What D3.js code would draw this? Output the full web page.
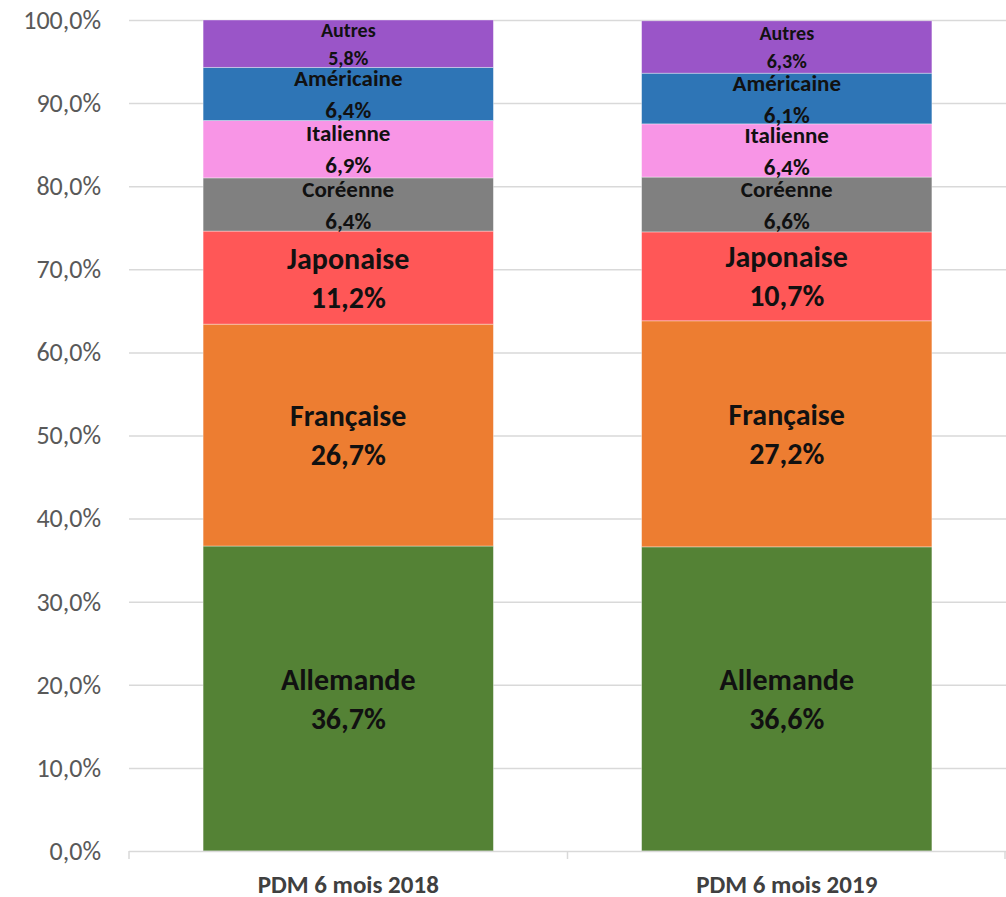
<!DOCTYPE html>
<html>
<head>
<meta charset="utf-8">
<script src="https://cdn.jsdelivr.net/npm/d3@7"></script>
<style>
  body { margin: 0; background: #fff; }
  svg { display: block; font-family: Carlito, Lato, "Liberation Sans", sans-serif; }
</style>
</head>
<body>
<div id="chart"></div>
<script>
// categories (bars) and stacked series, bottom to top
var periods = ['PDM 6 mois 2018', 'PDM 6 mois 2019'];
var brands = ['Allemande', 'Française', 'Japonaise', 'Coréenne', 'Italienne', 'Américaine', 'Autres'];
var share2018 = [36.7, 26.7, 11.2, 6.4, 6.9, 6.4, 5.8];
var share2019 = [36.6, 27.2, 10.7, 6.6, 6.4, 6.1, 6.3];
var yTicks = [0, 10, 20, 30, 40, 50, 60, 70, 80, 90, 100];

// look of each segment (colour, label size)
var colors = ['#548235', '#ED7D31', '#FF5757', '#808080', '#F895E6', '#2E75B6', '#9A55C8'];
var labelSize = [30, 30, 30, 23, 23, 23, 20];
var lineGap = [39, 39, 39, 32, 32, 32, 28];

var width = 1006, height = 897;
var margin = {top: 20, right: 0, bottom: 46, left: 129};

var svg = d3.select('#chart').append('svg')
	.attr('width', width)
	.attr('height', height);

var x = d3.scaleBand()
	.domain(periods)
	.range([margin.left, width - margin.right])
	.paddingInner(0.338)
	.paddingOuter(0.169);

var y = d3.scaleLinear()
	.domain([0, 100])
	.range([height - margin.bottom, margin.top])
	.clamp(true);

var fmt = function(v){ return d3.format('.1f')(v).replace('.', ',') + '%'; };

// gridlines
svg.append('g')
	.selectAll('line')
	.data(yTicks.slice(1))
	.enter().append('line')
	.attr('x1', margin.left)
	.attr('x2', width - margin.right)
	.attr('y1', function(d){ return y(d) + 0.5; })
	.attr('y2', function(d){ return y(d) + 0.5; })
	.attr('stroke', '#d9d9d9')
	.attr('stroke-width', 1.5);

// y axis labels
svg.append('g')
	.attr('transform', 'translate(' + margin.left + ',0)')
	.call(d3.axisLeft(y).tickValues(yTicks).tickFormat(fmt).tickSize(0).tickPadding(28))
	.call(function(g){ g.select('.domain').remove(); })
	.selectAll('text')
	.attr('fill', '#595959')
	.attr('font-size', 26)
	.attr('font-family', 'Carlito, Lato, "Liberation Sans", sans-serif');

// stacked data
var table = periods.map(function(p, i){
	var row = {period: p};
	var vals = i === 0 ? share2018 : share2019;
	brands.forEach(function(b, j){ row[b] = vals[j]; });
	return row;
});
var series = d3.stack().keys(brands)(table);

var layer = svg.append('g')
	.selectAll('g')
	.data(series)
	.enter().append('g')
	.attr('fill', function(d, i){ return colors[i]; });

layer.selectAll('rect')
	.data(function(d){ return d; })
	.enter().append('rect')
	.attr('x', function(d){ return x(d.data.period); })
	.attr('width', x.bandwidth())
	.attr('y', function(d){ return y(d[1]); })
	.attr('height', function(d){ return y(d[0]) - y(d[1]); })
	.attr('stroke', 'rgba(255,255,255,0.45)')
	.attr('stroke-width', 0.8);

// data labels: name + value
series.forEach(function(s, i){
	s.forEach(function(d){
		var cx = x(d.data.period) + x.bandwidth() / 2;
		var cy = (y(d[0]) + y(d[1])) / 2;
		var t = svg.append('text')
			.attr('x', cx)
			.attr('text-anchor', 'middle')
			.attr('font-weight', 'bold')
			.attr('font-size', labelSize[i])
			.attr('fill', '#111');
		t.append('tspan')
			.attr('x', cx)
			.attr('y', cy - lineGap[i] / 2)
			.attr('dy', '0.35em')
			.text(s.key);
		t.append('tspan')
			.attr('x', cx)
			.attr('y', cy + lineGap[i] / 2)
			.attr('dy', '0.35em')
			.text(fmt(d.data[s.key]));
	});
});

// x axis
var base = y(0);
var ax = svg.append('g');
ax.append('line')
	.attr('x1', margin.left).attr('x2', width - margin.right)
	.attr('y1', base + 0.5).attr('y2', base + 0.5)
	.attr('stroke', '#d9d9d9').attr('stroke-width', 1.5);
var edges = [margin.left].concat(periods.map(function(p){ return x(p) + x.bandwidth() + x.step() * x.paddingInner() / 2; }));
ax.selectAll('line.tick')
	.data(edges)
	.enter().append('line')
	.attr('class', 'tick')
	.attr('x1', function(d){ return Math.min(d, width - 1); })
	.attr('x2', function(d){ return Math.min(d, width - 1); })
	.attr('y1', base).attr('y2', base + 8)
	.attr('stroke', '#d9d9d9').attr('stroke-width', 1.5);
ax.selectAll('text')
	.data(periods)
	.enter().append('text')
	.attr('x', function(d){ return x(d) + x.bandwidth() / 2; })
	.attr('y', base + 33)
	.attr('dy', '0.35em')
	.attr('text-anchor', 'middle')
	.attr('font-weight', 'bold')
	.attr('font-size', 25)
	.attr('fill', '#404040')
	.text(function(d){ return d; });
</script>
</body>
</html>
